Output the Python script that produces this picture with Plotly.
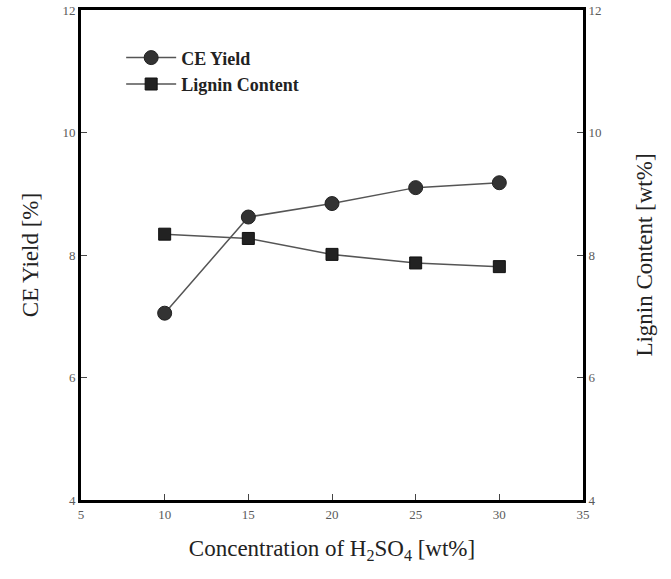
import plotly.graph_objects as go

conc = [10, 15, 20, 25, 30]
ce_yield = [7.05, 8.62, 8.84, 9.10, 9.18]
lignin = [8.34, 8.27, 8.01, 7.87, 7.81]
x_ticks = [5, 10, 15, 20, 25, 30, 35]
y_ticks = [4, 6, 8, 10, 12]

SERIF = "Liberation Serif, Times New Roman, serif"

fig = go.Figure()
fig.add_trace(go.Scatter(
    x=conc, y=ce_yield, name="CE Yield", mode="lines+markers",
    line=dict(color="#555555", width=1.5),
    marker=dict(symbol="circle", size=14, color="#333333",
                line=dict(color="#222222", width=1)),
))
fig.add_trace(go.Scatter(
    x=conc, y=lignin, name="Lignin Content", mode="lines+markers", yaxis="y2",
    line=dict(color="#555555", width=1.5),
    marker=dict(symbol="square", size=12, color="#222222",
                line=dict(color="#111111", width=1)),
))

axis_common = dict(
    showgrid=False, zeroline=False, showline=True, linecolor="black", linewidth=3,
    ticks="inside", ticklen=6, tickwidth=1, tickcolor="#444444",
    tickfont=dict(family=SERIF, size=13, color="#5a5a5a"),
    automargin=False, ticklabeloverflow="allow",
)

fig.update_layout(
    width=671, height=579,
    margin=dict(l=81, r=88, t=10, b=79),
    paper_bgcolor="white", plot_bgcolor="white",
    font=dict(family=SERIF),
    xaxis=dict(
        range=[5, 35], tickvals=x_ticks, mirror=True,
        title=dict(text="Concentration of H<sub>2</sub>SO<sub>4</sub> [wt%]",
                   font=dict(family=SERIF, size=23, color="#222222"), standoff=20),
        **axis_common,
    ),
    yaxis=dict(
        range=[4, 12], tickvals=y_ticks,
        title=dict(text="CE Yield [%]", font=dict(family=SERIF, size=23, color="#222222"),
                   standoff=18),
        **axis_common,
    ),
    yaxis2=dict(
        range=[4, 12], tickvals=y_ticks, overlaying="y", side="right",
        title=dict(text="Lignin Content [wt%]", font=dict(family=SERIF, size=23, color="#222222"),
                   standoff=36),
        **axis_common,
    ),
    legend=dict(
        x=0.08, y=0.94, xanchor="left", yanchor="top",
        font=dict(family=SERIF, size=18, color="#222222", weight="bold"),
        bgcolor="rgba(0,0,0,0)", tracegroupgap=0, itemwidth=50,
    ),
    showlegend=True,
)

fig.write_html("out.html", config={"displayModeBar": False},
               post_script="document.body.style.margin='0px';")
